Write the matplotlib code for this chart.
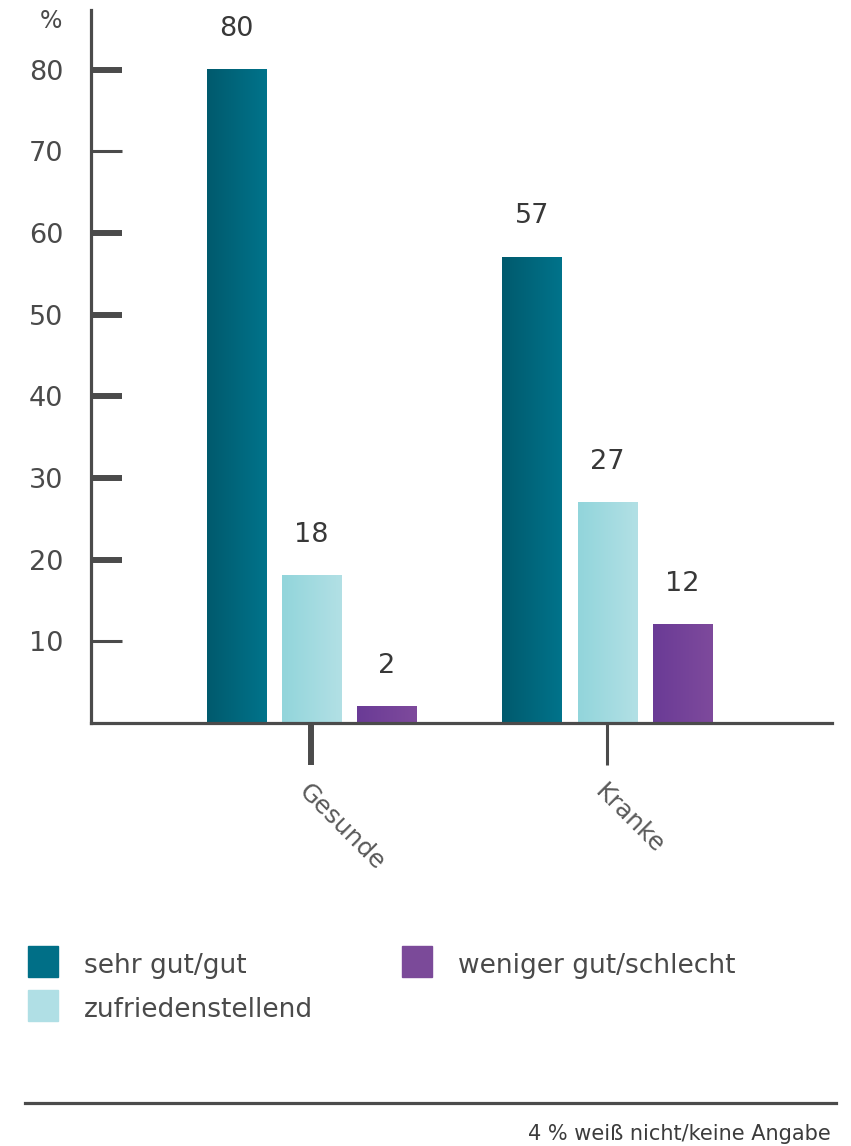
import numpy as np
import matplotlib
matplotlib.use('Agg')
import matplotlib.pyplot as plt
import matplotlib.transforms as mtransforms
from matplotlib.colors import LinearSegmentedColormap
from matplotlib.patches import Rectangle
from matplotlib.lines import Line2D

# data
groups = ['Gesunde', 'Kranke']
series = ['sehr gut/gut', 'zufriedenstellend', 'weniger gut/schlecht']
values = {
    'sehr gut/gut': [80, 57],
    'zufriedenstellend': [18, 27],
    'weniger gut/schlecht': [2, 12],
}
yticks = [10, 20, 30, 40, 50, 60, 70, 80]
footnote = '4 % weiß nicht/keine Angabe'

# style
grad_colors = {
    'sehr gut/gut': ('#005a6d', '#00738b'),
    'zufriedenstellend': ('#92d5db', '#b2e0e5'),
    'weniger gut/schlecht': ('#6a3b96', '#7e4a9c'),
}
legend_colors = {
    'sehr gut/gut': '#006f87',
    'zufriedenstellend': '#b0dfe5',
    'weniger gut/schlecht': '#7b4a99',
}
axis_col = '#4b4b4b'
text_col = '#4a4a4a'
W, H = 851, 1146

fig = plt.figure(figsize=(W / 100, H / 100), dpi=100)
ax = fig.add_axes([91 / W, 1 - 723 / H, (832 - 91) / W, (723 - 10) / H])

x = np.arange(len(groups))
width = 0.2
offsets = [-0.254, 0, 0.254]
ylim = (0, 87.3)
xlim = (-0.746, 1.761)

grad = np.linspace(0, 1, 64).reshape(1, -1)
for s, off in zip(series, offsets):
    bars = ax.bar(x + off, values[s], width, color=legend_colors[s], zorder=2)
    cmap = LinearSegmentedColormap.from_list(s, grad_colors[s])
    for b, v in zip(bars, values[s]):
        bx, bw, bh = b.get_x(), b.get_width(), b.get_height()
        ax.imshow(grad, extent=[bx, bx + bw, 0, bh], aspect='auto',
                  cmap=cmap, zorder=3, interpolation='bilinear')
        ax.annotate(str(v), (bx + bw / 2, bh), xytext=(0, 29.5),
                    textcoords='offset points', ha='center', va='center',
                    fontsize=19.5, color='#383838')

ax.set_xlim(*xlim)
ax.set_ylim(*ylim)

for sp in ['top', 'right']:
    ax.spines[sp].set_visible(False)
for sp in ['left', 'bottom']:
    ax.spines[sp].set_color(axis_col)
    ax.spines[sp].set_linewidth(2.3)
    ax.spines[sp].set_zorder(4)

ax.set_yticks(yticks)
ax.set_yticklabels([str(t) for t in yticks])
ax.tick_params(axis='y', direction='in', length=22, width=4.3, color=axis_col,
               pad=20, labelsize=19.5, labelcolor=text_col)
for t, val in zip(ax.yaxis.get_major_ticks(), yticks):
    if val in (10, 70):
        t.tick1line.set_markeredgewidth(2.2)

ax.set_xticks(x)
ax.set_xticklabels(groups, rotation=-45, ha='left', va='center',
                   rotation_mode='anchor')
ax.tick_params(axis='x', direction='out', length=30, width=4.3, color=axis_col,
               pad=17, labelsize=18, labelcolor='#5a5a5a')
ax.xaxis.get_major_ticks()[1].tick1line.set_markeredgewidth(2.2)
shift = mtransforms.ScaledTranslation(-9 / 100, 0, fig.dpi_scale_trans)
for lab in ax.get_xticklabels():
    lab.set_transform(lab.get_transform() + shift)

fig.text(51 / W, 1 - 21 / H, '%', ha='center', va='center',
         fontsize=17, color=text_col)

# legend
leg_pos = {
    'sehr gut/gut': (28, 946),
    'zufriedenstellend': (28, 990),
    'weniger gut/schlecht': (402, 946),
}
for s in series:
    lx, ly = leg_pos[s]
    fig.patches.append(Rectangle((lx / W, 1 - (ly + 31) / H), 30 / W, 31 / H,
                                 transform=fig.transFigure,
                                 color=legend_colors[s]))
    fig.text((lx + 56) / W, 1 - (ly + 20) / H, s, ha='left', va='center',
             fontsize=19, color=text_col)

fig.add_artist(Line2D([25 / W, 836 / W], [1 - 1103 / H, 1 - 1103 / H],
                      transform=fig.transFigure, color=axis_col, lw=2.3))
fig.text(831 / W, 1 - 1134 / H, footnote, ha='right', va='center',
         fontsize=15, color='#3c3c3c')

fig.savefig('out.png', dpi=100)
